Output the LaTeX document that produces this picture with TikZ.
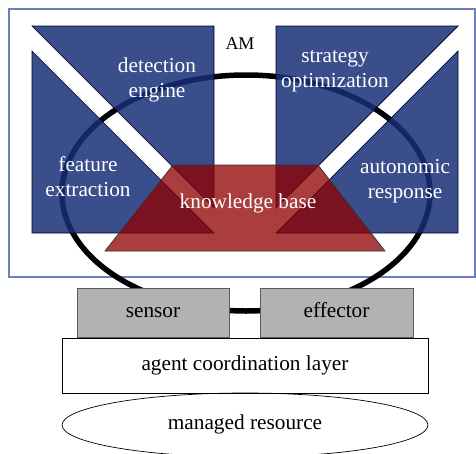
\documentclass[tikz,border=0pt]{standalone}
\usepackage{fontspec}
\setmainfont{Liberation Serif}
\usetikzlibrary{shapes.geometric}
\definecolor{panelblue}{RGB}{23,47,120}
\definecolor{kbred}{RGB}{143,0,0}
\definecolor{frameblue}{RGB}{110,128,185}
\definecolor{boxgray}{RGB}{178,178,178}
\begin{document}
\begin{tikzpicture}[scale=0.03515]
\tikzstyle{every node}+=[inner sep=0pt]
\tikzstyle{big}=[font=\fontsize{21.3}{25}\selectfont, align=center]
\tikzstyle{oneline}=[big, text height=14, text depth=5]
\tikzstyle{whitetext}=[big, text=white]
\tikzstyle{panel}=[fill=panelblue, fill opacity=0.85, draw=black!85!blue, line width=0.7pt]
\tikzstyle{kb}=[fill=kbred, fill opacity=0.76, draw=black!80, line width=0.7pt]
\tikzstyle{block}=[oneline, draw=black!65, fill=boxgray, minimum height=49, line width=0.8pt]
\useasboundingbox (0,0) rectangle (476,-453);
\draw [frameblue, line width=1.2pt] (9,-9) rectangle (475,-277);
\node (am) at (240,-44) {\fontsize{18}{20}\selectfont AM};
\draw [black, line width=5.5pt] (246,-193) ellipse (184 and 118);
% the four blue panels
\draw [panel] (32,-26) -- (214,-26) -- (214,-208) -- cycle;
\draw [panel] (32,-51) -- (32,-233) -- (214,-233) -- cycle;
\draw [panel] (458,-26) -- (276,-26) -- (276,-208) -- cycle;
\draw [panel] (458,-51) -- (458,-233) -- (276,-233) -- cycle;
% knowledge base
\draw [kb] (173,-165) -- (318,-165) -- (385,-251) -- (105,-251) -- cycle;
\node [whitetext] (detect) at (157,-80) {detection\\engine};
\node [whitetext] (feature) at (88,-177) {feature\\extraction};
\node [whitetext] (strategy) at (335,-71) {strategy\\optimization};
\node [whitetext] (response) at (405,-181) {autonomic\\response};
\node [whitetext, oneline] (kbase) at (248,-204) {knowledge base};
% lower layers
\node [block, minimum width=152] (sensor) at (153,-312.5) {sensor};
\node [block, minimum width=153] (effector) at (336.5,-312.5) {effector};
\node [oneline, draw=black, fill=white, minimum width=366, minimum height=55, line width=0.8pt] (agent) at (245,-365.5) {agent coordination layer};
\node [oneline, draw=black, ellipse, minimum width=366, minimum height=64, line width=0.7pt] (resource) at (245,-425) {managed resource};
\end{tikzpicture}
\end{document}
